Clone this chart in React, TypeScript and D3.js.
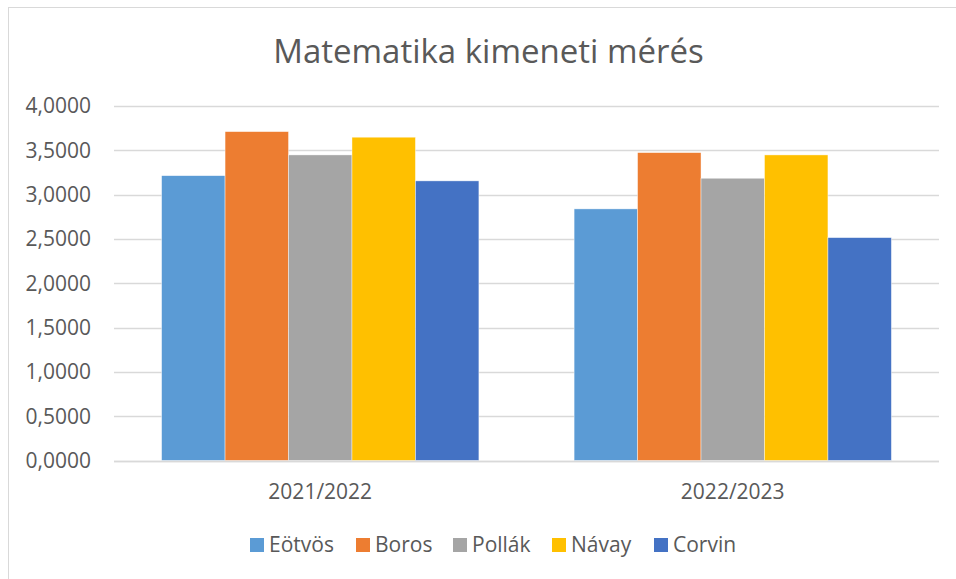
import React, { useEffect, useRef } from "react";
import * as d3 from "d3";

const title = "Matematika kimeneti mérés";
const years = ["2021/2022", "2022/2023"];
const schools = ["Eötvös", "Boros", "Pollák", "Návay", "Corvin"];
const colors = ["#5B9BD5", "#ED7D31", "#A5A5A5", "#FFC000", "#4472C4"];
const eotvos = [3.214, 2.839];
const boros = [3.711, 3.474];
const pollak = [3.448, 3.185];
const navay = [3.648, 3.448];
const corvin = [3.155, 2.515];
const yTicks = [0, 0.5, 1, 1.5, 2, 2.5, 3, 3.5, 4];

const W = 956;
const H = 579;
const FONT = "'Open Sans', sans-serif";
const TXT = "#595959";

export default function App() {
  const ref = useRef<SVGSVGElement>(null);

  useEffect(() => {
    const svg = d3.select(ref.current);
    svg.selectAll("*").remove();

    const values = [eotvos, boros, pollak, navay, corvin];
    const rows = years.map((yr, i) => ({
      year: yr,
      vals: schools.map((s, j) => ({ school: s, value: values[j][i] })),
    }));

    // chart border (runs off the right/bottom edge like the screenshot)
    svg.append("rect")
      .attr("x", 8.5).attr("y", 7.5)
      .attr("width", W + 20).attr("height", H + 20)
      .attr("fill", "#fff").attr("stroke", "#d9d9d9");

    const left = 114, right = 939, top = 106, bottom = 460.5;

    const x0 = d3.scaleBand().domain(years).range([left, right]);
    const x1 = d3.scaleBand().domain(schools).range([0, x0.bandwidth()]).paddingOuter(0.75);
    const y = d3.scaleLinear().domain([0, 4]).range([bottom, top]);
    const color = d3.scaleOrdinal<string>().domain(schools).range(colors);

    svg.append("text")
      .attr("x", 488.5).attr("y", 62.5)
      .attr("text-anchor", "middle")
      .attr("font-family", FONT).attr("font-size", 33)
      .attr("fill", TXT)
      .text(title);

    const grid = svg.append("g");
    grid.selectAll("line").data(yTicks).enter().append("line")
      .attr("x1", left).attr("x2", right)
      .attr("y1", d => Math.round(y(d)) + 0.5).attr("y2", d => Math.round(y(d)) + 0.5)
      .attr("stroke", "#d9d9d9").attr("stroke-width", 1.5);

    svg.append("g").selectAll("text").data(yTicks).enter().append("text")
      .attr("x", 91).attr("y", d => y(d))
      .attr("dy", "0.35em")
      .attr("text-anchor", "end")
      .attr("font-family", FONT).attr("font-size", 21)
      .attr("fill", TXT)
      .text(d => d3.format(".4f")(d).replace(".", ","));

    const groups = svg.append("g").selectAll("g").data(rows).enter().append("g")
      .attr("transform", d => `translate(${x0(d.year)},0)`);

    groups.selectAll("rect").data(d => d.vals).enter().append("rect")
      .attr("x", d => x1(d.school)!)
      .attr("y", d => y(d.value))
      .attr("width", x1.bandwidth())
      .attr("height", d => y(0) - y(d.value))
      .attr("fill", d => color(d.school))
      .attr("stroke", "#fff").attr("stroke-width", 0.6).attr("stroke-opacity", 0.7);

    svg.append("line")
      .attr("x1", left).attr("x2", right)
      .attr("y1", Math.round(y(0)) + 0.5).attr("y2", Math.round(y(0)) + 0.5)
      .attr("stroke", "#d9d9d9").attr("stroke-width", 1.5);

    svg.append("g").selectAll("text").data(years).enter().append("text")
      .attr("x", d => x0(d)! + x0.bandwidth() / 2)
      .attr("y", 498.5)
      .attr("text-anchor", "middle")
      .attr("font-family", FONT).attr("font-size", 21)
      .attr("fill", TXT)
      .text(d => d);

    const legendX = [250, 356, 453, 552, 654];
    const leg = svg.append("g").selectAll("g").data(schools).enter().append("g")
      .attr("transform", (d, i) => `translate(${legendX[i]},538)`);
    leg.append("rect")
      .attr("width", 14).attr("height", 14)
      .attr("fill", d => color(d));
    leg.append("text")
      .attr("x", 19).attr("y", 13.7)
      .attr("font-family", FONT).attr("font-size", 21)
      .attr("fill", TXT)
      .text(d => d);
  }, []);

  return (
    <svg
      ref={ref}
      width={W}
      height={H}
      style={{ position: "absolute", left: 0, top: 0, background: "#fff" }}
    />
  );
}
